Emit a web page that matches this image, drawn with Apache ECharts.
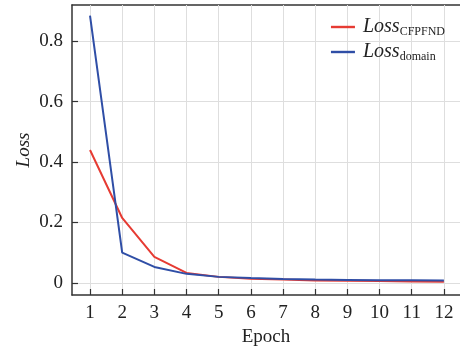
<!DOCTYPE html>
<html><head><meta charset="utf-8">
<script src="https://cdn.jsdelivr.net/npm/echarts@6/dist/echarts.min.js"></script>
<style>html,body{margin:0;padding:0;background:#fff}#c{width:460px;height:347px}</style>
</head><body><div id="c"></div>
<script>
const epochs = [1,2,3,4,5,6,7,8,9,10,11,12];
const lossCFPFND = [0.44,0.215,0.086,0.033,0.02,0.014,0.011,0.008,0.007,0.006,0.005,0.004];
const lossDomain = [0.885,0.1,0.053,0.03,0.02,0.016,0.013,0.011,0.01,0.009,0.009,0.008];
const yTicks = [0,0.2,0.4,0.6,0.8];
const seriesNames = ['CFPFND','domain'];

const font = 'Liberation Serif';
const grid = '#dedede';
const xRange = {min:0.44, max:12.5};
const yRange = {min:-0.04, max:0.92};
const chart = echarts.init(document.getElementById('c'));
chart.setOption({
  animation:false,
  grid:{left:72,right:0,top:5,bottom:52,outerBoundsMode:'none'},
  legend:{
    orient:'vertical', right:10, top:12, itemWidth:24, itemHeight:10, itemGap:4,
    icon:'path://M0,0L24,0L24,2.4L0,2.4Z',
    formatter: n => '{i|Loss}{s|' + n + '}',
    textStyle:{ fontFamily:font, color:'#222',
      rich:{ i:{fontStyle:'italic',fontSize:20,fontFamily:font,color:'#222',lineHeight:20,padding:[0,0,0,3]},
             s:{fontSize:12,fontFamily:font,color:'#222',padding:[10,0,0,0]} } },
    data: seriesNames
  },
  xAxis:[{
    type:'value', ...xRange, z:1,
    name:'Epoch', nameLocation:'middle', nameGap:33, nameMoveOverlap:false,
    nameTextStyle:{fontFamily:font,fontSize:19,color:'#222'},
    axisLine:{onZero:false,lineStyle:{color:'#333',width:1.5}},
    axisTick:{show:false,customValues:epochs},
    axisLabel:{customValues:epochs,fontFamily:font,fontSize:19,color:'#222',margin:9},
    splitLine:{show:true,lineStyle:{color:grid}}
  },{
    type:'value', position:'top', ...xRange,
    axisLine:{show:true,onZero:false,lineStyle:{color:'#333',width:1.5}},
    axisTick:{show:false}, axisLabel:{show:false}, splitLine:{show:false}
  },{
    type:'value', position:'bottom', ...xRange, z:5,
    axisLine:{show:false,onZero:false},
    axisTick:{show:true,inside:true,length:6,customValues:epochs,lineStyle:{color:'#333',width:1.2}},
    axisLabel:{show:false,customValues:epochs}, splitLine:{show:false}
  }],
  yAxis:[{
    type:'value', ...yRange, z:1,
    name:'Loss', nameLocation:'middle', nameGap:39, nameMoveOverlap:false,
    nameTextStyle:{fontFamily:font,fontSize:19,fontStyle:'italic',color:'#222'},
    axisLine:{show:true,onZero:false,lineStyle:{color:'#333',width:1.5}},
    axisTick:{show:false,customValues:yTicks},
    axisLabel:{customValues:yTicks,fontFamily:font,fontSize:19,color:'#222',margin:9},
    splitLine:{show:true,lineStyle:{color:grid}}
  },{
    type:'value', position:'left', ...yRange, z:5,
    axisLine:{show:false,onZero:false},
    axisTick:{show:true,inside:true,length:6,customValues:yTicks,lineStyle:{color:'#333',width:1.2}},
    axisLabel:{show:false,customValues:yTicks}, splitLine:{show:false}
  }],
  series:[
    {name:'CFPFND',type:'line',symbol:'none',data:epochs.map((e,i)=>[e,lossCFPFND[i]]),
     lineStyle:{color:'#e63b33',width:2},itemStyle:{color:'#e63b33'}},
    {name:'domain',type:'line',symbol:'none',data:epochs.map((e,i)=>[e,lossDomain[i]]),
     lineStyle:{color:'#2f4ea6',width:2},itemStyle:{color:'#2f4ea6'}}
  ]
});
</script></body></html>
